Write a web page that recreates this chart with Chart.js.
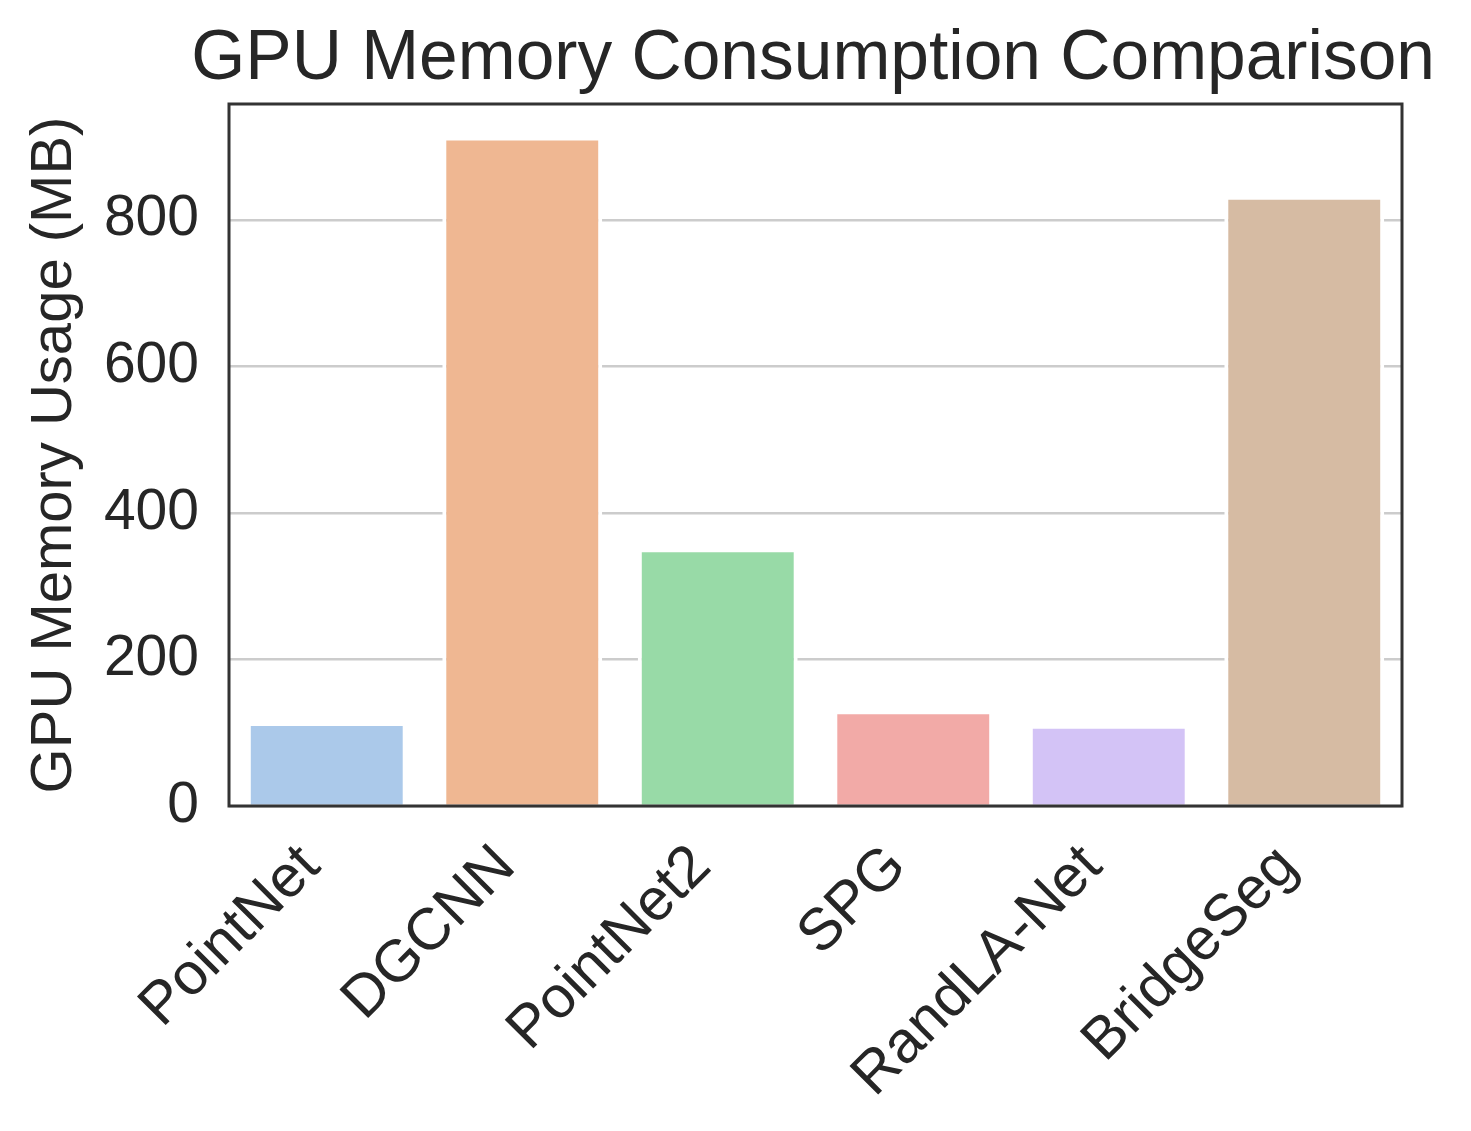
<!DOCTYPE html>
<html>
<head>
<meta charset="utf-8">
<script src="https://cdn.jsdelivr.net/npm/chart.js@4/dist/chart.umd.min.js"></script>
<style>
  html, body { margin: 0; padding: 0; background: #ffffff; }
  #wrap { width: 1471px; height: 1131px; }
</style>
</head>
<body>
<div id="wrap"><canvas id="c" width="1471" height="1131"></canvas></div>
<script>
const categories = ["PointNet", "DGCNN", "PointNet2", "SPG", "RandLA-Net", "BridgeSeg"];
const memoryMB = [112, 911, 349, 128, 108, 830];
const barColors = ["#abc9ea", "#efb792", "#98daa7", "#f2aaa7", "#d3c3f6", "#d6bba3"];
const yTicks = [0, 200, 400, 600, 800];
const titleText = "GPU Memory Consumption Comparison";
const yTitleText = "GPU Memory Usage (MB)";

const FONT = "'Liberation Sans', Arial, Helvetica, sans-serif";
const TXT = "#262626";

const framePlugin = {
  id: 'frame',
  afterDatasetsDraw(chart) {
    const a = chart.chartArea, ctx = chart.ctx;
    ctx.save();
    ctx.strokeStyle = "#333333";
    ctx.lineWidth = 3;
    ctx.strokeRect(a.left, a.top, a.right - a.left, a.bottom - a.top);
    ctx.restore();
  }
};

new Chart(document.getElementById('c'), {
  type: 'bar',
  data: {
    labels: categories,
    datasets: [{
      data: memoryMB,
      backgroundColor: barColors,
      borderColor: "#ffffff",
      borderWidth: { top: 2, left: 4, right: 4, bottom: 0 },
      borderSkipped: false,
      barPercentage: 0.818,
      categoryPercentage: 1.0
    }]
  },
  options: {
    responsive: false,
    animation: false,
    devicePixelRatio: 1,
    layout: { padding: { left: 0, right: 36, top: 0, bottom: 0 } },
    plugins: {
      legend: { display: false },
      tooltip: { enabled: false },
      title: {
        display: true,
        text: titleText,
        fullSize: true,
        align: 'end',
        color: TXT,
        font: { family: FONT, size: 69.5, weight: 'normal', lineHeight: 1.2 },
        padding: { top: 18, bottom: 2.6 }
      }
    },
    scales: {
      x: {
        grid: { display: false, drawTicks: false },
        border: { display: false },
        ticks: {
          color: TXT,
          font: { family: FONT, size: 59 },
          minRotation: 45,
          maxRotation: 45,
          autoSkip: false,
          padding: 26,
          labelOffset: -16
        },
        afterFit(s) { s.height = 325; }
      },
      y: {
        min: 0,
        max: 958,
        grid: { color: "#cccccc", lineWidth: 2.5, drawTicks: false },
        border: { display: false },
        afterBuildTicks(s) { s.ticks = yTicks.map(v => ({ value: v })); },
        ticks: {
          color: TXT,
          font: { family: FONT, size: 57 },
          padding: 30
        },
        title: {
          display: true,
          text: yTitleText,
          color: TXT,
          font: { family: FONT, size: 58 },
          padding: { top: 20, bottom: 0 }
        },
        afterFit(s) { s.width = 229; }
      },
      yRightSpace: {
        type: 'linear',
        position: 'right',
        display: true,
        grid: { display: false, drawTicks: false },
        border: { display: false },
        ticks: { display: false },
        afterFit(s) { s.width = 33; }
      }
    }
  },
  plugins: [framePlugin]
});
</script>
</body>
</html>
